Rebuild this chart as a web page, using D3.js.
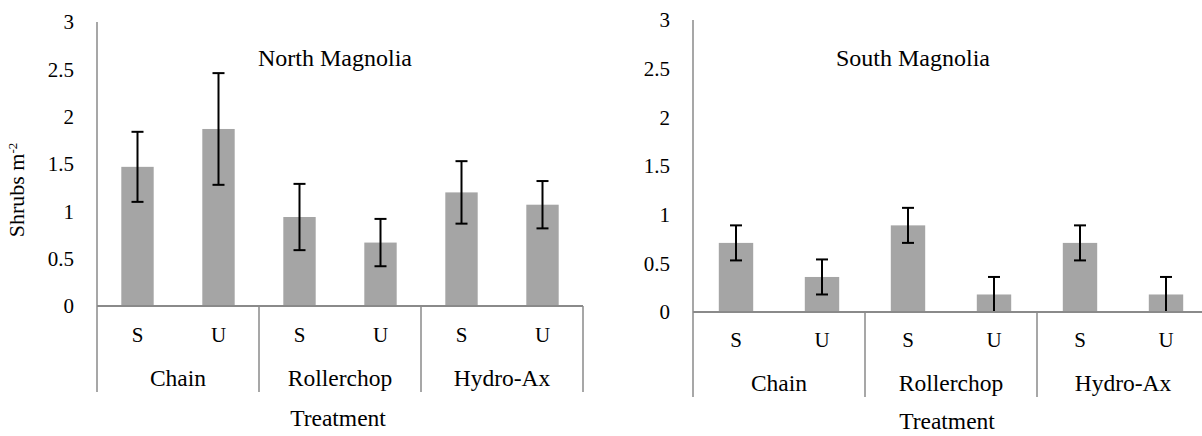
<!DOCTYPE html>
<html>
<head>
<meta charset="utf-8">
<script src="https://cdn.jsdelivr.net/npm/d3@7"></script>
<style>
  html, body { margin: 0; padding: 0; background: #fff; }
  svg { display: block; }
  svg text { font-family: "Liberation Serif", "DejaVu Serif", "Times New Roman", serif; fill: #000; }
</style>
</head>
<body>
<svg id="chart" width="1202" height="436"></svg>
<script>
const treatments = ["Chain", "Rollerchop", "Hydro-Ax"];
const subgroups = ["S", "U"];
const yTicks = [0, 0.5, 1, 1.5, 2, 2.5, 3];
const northTitle = "North Magnolia";
const southTitle = "South Magnolia";
const northMeans = [1.47, 1.87, 0.94, 0.67, 1.20, 1.07];
const northErr = [0.37, 0.59, 0.35, 0.25, 0.33, 0.25];
const southMeans = [0.71, 0.36, 0.89, 0.18, 0.71, 0.18];
const southErr = [0.18, 0.18, 0.18, 0.18, 0.18, 0.18];

const svg = d3.select("#chart");
const FONT = "Liberation Serif, DejaVu Serif, serif";
const FS = 21;
const FW = 23.5;
const barColor = "#a5a5a5";
const axisColor = "#8a8a8a";

function panel(cfg) {
  const g = svg.append("g").attr("font-family", FONT);
  const keys = [];
  treatments.forEach(t => subgroups.forEach(s => keys.push(t + "|" + s)));
  const rows = keys.map((k, i) => ({key: k, sub: k.split("|")[1], mean: cfg.means[i], err: cfg.errs[i]}));

  const x = d3.scaleBand().domain(keys).range([cfg.x0, cfg.x1]).paddingInner(0.6).paddingOuter(0.3);
  const xg = d3.scaleBand().domain(treatments).range([cfg.x0, cfg.x1]);
  const y = d3.scaleLinear().domain([0, 3]).range([cfg.yBase, cfg.yTop]);

  g.selectAll("text.ytick").data(yTicks).join("text")
    .attr("class", "ytick")
    .attr("x", cfg.x0 - 23)
    .attr("y", d => y(d))
    .attr("dy", "0.35em")
    .attr("text-anchor", "end")
    .attr("font-size", FS)
    .text(d => d);

  g.selectAll("rect.bar").data(rows).join("rect")
    .attr("class", "bar")
    .attr("x", d => x(d.key))
    .attr("width", x.bandwidth())
    .attr("y", d => y(d.mean))
    .attr("height", d => y(0) - y(d.mean))
    .attr("fill", barColor);

  const cx = d => x(d.key) + x.bandwidth() / 2;
  const lo = d => Math.max(0, d.mean - d.err);
  const eb = g.selectAll("g.err").data(rows).join("g").attr("class", "err")
    .attr("stroke", "#000").attr("stroke-width", 2);
  eb.append("line").attr("x1", cx).attr("x2", cx).attr("y1", d => y(d.mean + d.err)).attr("y2", d => y(lo(d)));
  eb.append("line").attr("x1", d => cx(d) - 6).attr("x2", d => cx(d) + 6).attr("y1", d => y(d.mean + d.err)).attr("y2", d => y(d.mean + d.err));
  eb.filter(d => d.mean - d.err > 0.001).append("line").attr("x1", d => cx(d) - 6).attr("x2", d => cx(d) + 6).attr("y1", d => y(lo(d))).attr("y2", d => y(lo(d)));

  g.append("line").attr("x1", cfg.x0).attr("x2", cfg.x0).attr("y1", cfg.yTop).attr("y2", cfg.yBase)
    .attr("stroke", axisColor).attr("stroke-width", 1.5);
  g.append("line").attr("x1", cfg.x0).attr("x2", cfg.x1).attr("y1", cfg.yBase).attr("y2", cfg.yBase)
    .attr("stroke", axisColor).attr("stroke-width", 2);

  const divs = treatments.map(t => xg(t)).concat([cfg.x1]);
  g.selectAll("line.div").data(divs).join("line").attr("class", "div")
    .attr("x1", d => d).attr("x2", d => d)
    .attr("y1", cfg.yBase).attr("y2", cfg.divBottom)
    .attr("stroke", axisColor).attr("stroke-width", 1.5);

  g.selectAll("text.sub").data(rows).join("text").attr("class", "sub")
    .attr("x", cx).attr("y", cfg.tickY).attr("dy", "0.35em")
    .attr("text-anchor", "middle").attr("font-size", FS)
    .text(d => d.sub);

  g.selectAll("text.cat").data(treatments).join("text").attr("class", "cat")
    .attr("x", d => xg(d) + xg.bandwidth() / 2).attr("y", cfg.catY).attr("dy", "0.35em")
    .attr("text-anchor", "middle").attr("font-size", FW)
    .text(d => d);

  g.append("text").attr("x", cfg.treatX).attr("y", cfg.treatY).attr("dy", "0.35em")
    .attr("text-anchor", "middle").attr("font-size", FW).text("Treatment");

  g.append("text").attr("x", cfg.titleX).attr("y", cfg.titleY).attr("dy", "0.35em")
    .attr("text-anchor", "middle").attr("font-size", 24).text(cfg.title);
}

panel({x0: 97, x1: 583, yTop: 22, yBase: 306, divBottom: 392, tickY: 335, catY: 378, treatX: 338, treatY: 418,
       titleX: 335, titleY: 58, title: northTitle, means: northMeans, errs: northErr});
panel({x0: 693, x1: 1209, yTop: 20, yBase: 312, divBottom: 397, tickY: 340, catY: 383, treatX: 947, treatY: 421,
       titleX: 913, titleY: 58, title: southTitle, means: southMeans, errs: southErr});

const yl = svg.append("text")
  .attr("font-family", FONT)
  .attr("transform", "translate(24,190) rotate(-90)")
  .attr("text-anchor", "middle")
  .attr("font-size", 22);
yl.append("tspan").text("Shrubs m");
yl.append("tspan").attr("font-size", 13).attr("dy", -7).text("-2");
</script>
</body>
</html>
